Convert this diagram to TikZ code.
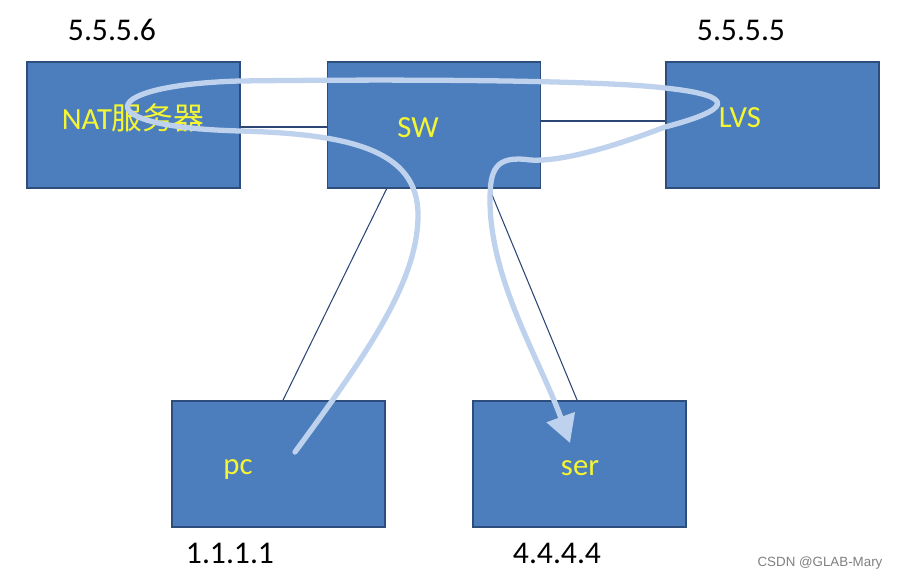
\documentclass[tikz,border=0pt]{standalone}
\usepackage{fontspec}
\setmainfont{Carlito}
\newfontfamily\cjk{Noto Sans CJK SC}
\newfontfamily\wmfont{Liberation Sans}
\usetikzlibrary{arrows.meta,positioning}

\definecolor{boxblue}{RGB}{76,126,189}
\definecolor{boxedge}{RGB}{45,78,125}
\definecolor{linkblue}{RGB}{45,70,115}
\definecolor{flowblue}{RGB}{190,210,238}
\definecolor{lblyellow}{RGB}{245,245,50}

\tikzset{
  box/.style={rectangle,draw=boxedge,line width=1.1pt,fill=boxblue,
    minimum width=4.26cm,minimum height=2.52cm,inner sep=0pt},
  lbl/.style={text=lblyellow,font=\fontsize{17.5}{20}\selectfont,inner sep=0pt},
  addr/.style={text=black,font=\fontsize{18}{21}\selectfont,inner sep=0pt},
  link/.style={draw=linkblue,line width=0.6pt},
  flow/.style={draw=flowblue,line width=3pt,line cap=round}
}

\begin{document}
\begin{tikzpicture}[x=0.02cm,y=-0.02cm]
\useasboundingbox[fill=white] (0,0) rectangle (898,580);
% devices
\node[box] (nat) at (133.5,125) {};
\node[box] (sw) at (434,125) {};
\node[box] (lvs) at (772.5,125) {};
\node[box] (pc) at (278.5,464) {};
\node[box] (ser) at (579.5,464) {};
% links
\draw[link] (nat.east |- 0,127) -- (sw.west |- 0,127);
\draw[link] (sw.east |- 0,121) -- (lvs.west |- 0,121);
\draw[link] ([xshift=60*0.02cm]sw.south west) -- ([xshift=112*0.02cm]pc.north west);
\draw[link] ([xshift=163*0.02cm]sw.south west) -- ([xshift=105*0.02cm]ser.north west);
% labels
\node[lbl] (natlbl) at (133,118) {NAT{\cjk 服务器}};
\node[lbl] (swlbl) at (418,128) {SW};
\node[lbl] (lvslbl) at (740,118) {LVS};
\node[lbl] (pclbl) at (238,470) {pc};
\node[lbl] (serlbl) at (580,468) {ser};
% addresses
\node[addr] (natip) at (112,30) {5.5.5.6};
\node[addr] (lvsip) at (741,30) {5.5.5.5};
\node[addr] (pcip) at (230,553) {1.1.1.1};
\node[addr] (serip) at (557,553) {4.4.4.4};
% packet path
\coordinate (start) at (295,452);
\coordinate (tip) at (570,443);
\draw[flow,-{Triangle[width=0.58cm,length=0.55cm]}] (start)
  .. controls (370,350) and (418,280) .. (418,215)
  .. controls (418,150) and (350,134) .. (240,131)
  .. controls (85,127) and (95,85) .. (240,81)
  .. controls (400,79) and (600,80) .. (665,88)
  .. controls (740,96) and (730,110) .. (665,127)
  .. controls (610,148) and (560,162) .. (530,160)
  .. controls (495,155) and (490,170) .. (490,200)
  .. controls (490,280) and (540,360) .. (tip);
\node[text=gray,font=\wmfont\fontsize{7.6}{9}\selectfont,inner sep=0pt] (mark) at (820,563) {CSDN @GLAB-Mary};
\end{tikzpicture}
\end{document}
